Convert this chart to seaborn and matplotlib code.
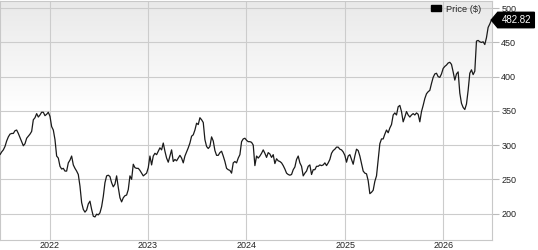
import numpy as np
import pandas as pd
import matplotlib
matplotlib.use("Agg")
import matplotlib.pyplot as plt
import matplotlib.patches as mpatches
from matplotlib.path import Path
from matplotlib.colors import LinearSegmentedColormap
import seaborn as sns

# ---------------- data ----------------
start_date = "2021-07-01"
end_date = "2026-06-28"

prices_a = [286, 290, 293, 298, 306, 312, 316, 317, 317, 321, 322, 317, 311, 305, 299,
            302, 310, 313, 316, 320, 337, 340, 346, 341, 344, 348, 348, 343, 345, 348,
            342, 327, 322, 308, 284, 281, 269, 265, 266, 262, 262, 274, 278, 284, 271,
            266, 262, 257, 240, 216, 206, 202, 205, 214, 218, 206, 196]
prices_b = [195, 199, 198, 201, 210, 225, 245, 255, 256, 254, 245, 239, 243, 255, 238,
            223, 217, 223, 226, 227, 235, 255, 250, 272, 267, 266, 266, 263, 259, 255,
            257, 259, 267, 284, 271, 284, 288, 286, 291, 296, 293, 303, 291, 281, 275,
            284, 293, 276, 279, 277, 281, 285, 281, 274, 284, 290, 296, 303, 313, 315, 322]
prices_c = [332, 330, 340, 337, 333, 308, 298, 295, 298, 312, 306, 292, 285, 285, 289,
            291, 284, 276, 266, 264, 263, 259, 274, 276, 274, 281, 286, 305, 309, 310,
            307, 305, 305, 304, 300, 270, 284, 281, 284, 288, 293, 288, 282, 289, 287,
            282, 286, 273, 280, 277, 276, 274, 270, 265]
prices_d = [259, 257, 256, 257, 264, 268, 279, 284, 274, 269, 255, 259, 262, 269, 271,
            257, 264, 264, 269, 269, 271, 270, 271, 274, 270, 274, 279, 288, 292, 294,
            297, 297, 294, 293, 290, 285, 275, 284, 286, 279, 272, 284, 294, 292, 284,
            273, 262, 259, 258, 248, 229, 231, 234, 247, 255, 279, 302, 309, 309, 316]
prices_e = [322, 318, 325, 330, 344, 347, 344, 356, 358, 349, 334, 341, 349, 344, 341,
            344, 346, 344, 347, 345, 334, 349, 358, 368, 375, 378, 380, 390, 399, 404,
            405, 400, 399, 404, 412, 415, 417, 420, 421, 418, 407, 395, 404, 407, 376,
            361, 355, 352, 360, 380, 405, 410, 403, 408, 452, 453, 451, 450, 451, 447,
            457, 472, 477, 482.82]

series_label = "Price ($)"
year_ticks = ["2022", "2023", "2024", "2025", "2026"]
price_ticks = [200, 250, 300, 350, 400, 450, 500]

prices = prices_a + prices_b + prices_c + prices_d + prices_e
dates = pd.date_range(start_date, end_date, periods=len(prices))
df = pd.DataFrame({"Date": dates, "Price": prices})


# price-tag shaped box (rectangle with a point on the left)
def tag_box(x0, y0, width, height, mutation_size):
    pad = mutation_size * 0.28
    x0 -= pad * 1.6
    y0 -= pad
    width += pad * 2.6
    height += pad * 2
    tip = height * 0.42
    verts = [(x0 - tip, y0 + height / 2), (x0, y0), (x0 + width, y0),
             (x0 + width, y0 + height), (x0, y0 + height),
             (x0 - tip, y0 + height / 2), (x0 - tip, y0 + height / 2)]
    codes = [Path.MOVETO] + [Path.LINETO] * 5 + [Path.CLOSEPOLY]
    return Path(verts, codes)


# ---------------- style ----------------
sns.set_theme(style="white")
plt.rcParams["font.family"] = ["Liberation Sans", "DejaVu Sans"]

fig = plt.figure(figsize=(5.38, 2.5), dpi=100)
fig.patch.set_facecolor("white")
ax = fig.add_axes([0.0, 0.042, 0.915, 0.954])

# background gradient (light grey at top, fading to white)
grad = np.linspace(0, 1, 256).reshape(-1, 1)
cmap = LinearSegmentedColormap.from_list("bg", ["#ffffff", "#e9e9e9"])
ax.imshow(grad, extent=[0, 1, 0.54, 1], transform=ax.transAxes, cmap=cmap,
          aspect="auto", origin="lower", zorder=0, interpolation="bilinear")

sns.lineplot(data=df, x="Date", y="Price", ax=ax, color="#1a1a1a",
             linewidth=0.9, zorder=3, legend=False)

ax.set_xlim(pd.Timestamp("2021-07-01"), pd.Timestamp("2026-07-01"))
ax.set_ylim(162, 510.6)

ax.set_xticks([pd.Timestamp(f"{y}-01-01") for y in year_ticks])
ax.set_xticklabels(year_ticks)
ax.set_yticks(price_ticks)
ax.set_yticklabels([str(v) for v in price_ticks])

ax.yaxis.tick_right()
ax.tick_params(axis="y", length=5, width=0.8, color="#bbbbbb", pad=1.5,
               labelsize=6.5, labelcolor="#222222", right=True, left=False)
ax.tick_params(axis="x", length=0, pad=1.0, labelsize=6.5, labelcolor="#222222")
ax.set_xlabel("")
ax.set_ylabel("")

ax.grid(True, color="#cccccc", linewidth=0.8)
ax.set_axisbelow(True)
for s in ax.spines.values():
    s.set_visible(True)
    s.set_color("#c8c8c8")
    s.set_linewidth(0.8)

# legend
handle = mpatches.Patch(facecolor="black", edgecolor="black")
ax.legend([handle], [series_label], loc="upper right", bbox_to_anchor=(0.978, 0.985),
          frameon=False, fontsize=6.7, handlelength=1.0, handleheight=0.55,
          handletextpad=0.6, borderpad=0, borderaxespad=0)

# last price label
last = prices[-1]
ax.text(1.02, last, f"{last:.2f}", transform=ax.get_yaxis_transform(),
        ha="left", va="center", color="white", fontsize=7, zorder=6,
        clip_on=False,
        bbox=dict(boxstyle=tag_box, facecolor="black", edgecolor="black"))

fig.savefig("out.png", dpi=100, facecolor="white")
